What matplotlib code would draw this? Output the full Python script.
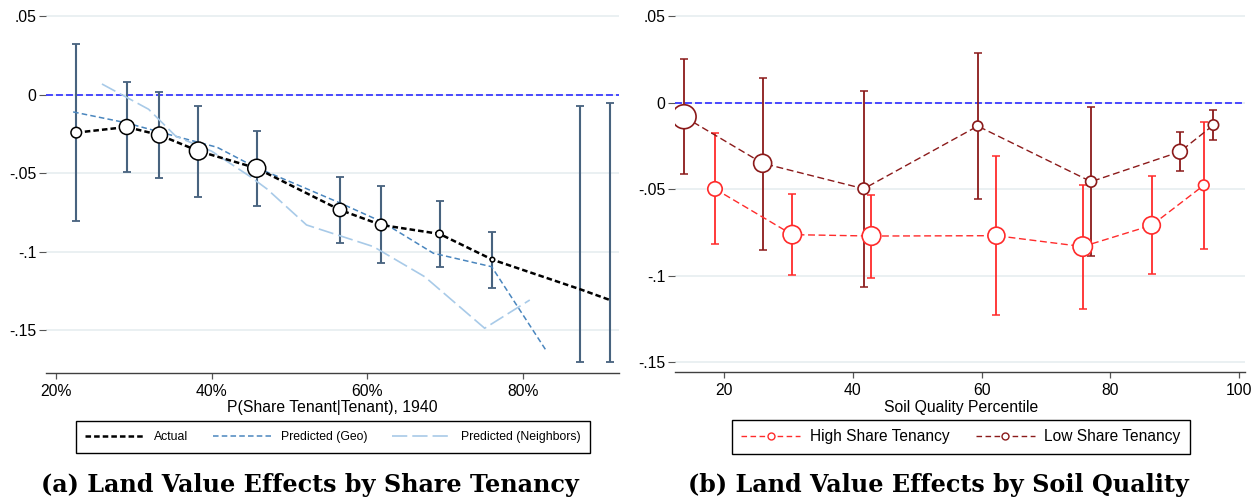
import matplotlib
matplotlib.use("Agg")
import matplotlib.pyplot as plt
from matplotlib.lines import Line2D

plt.rcParams['font.family'] = ['Liberation Sans', 'DejaVu Sans']
plt.rcParams['lines.scale_dashes'] = False

# ---------------- Panel (a): effects by share tenancy ----------------
share_x = [22.6, 29.1, 33.3, 38.3, 45.8, 56.5, 61.8, 69.3, 76.1, 87.4, 91.2]
share_coef = [-0.0242, -0.0206, -0.0257, -0.0359, -0.0469, -0.0734,
              -0.0830, -0.0887, -0.1051, -0.1240, -0.1308]
share_hi = [0.0321, 0.0081, 0.0019, -0.0070, -0.0231, -0.0526,
            -0.0584, -0.0679, -0.0873, -0.0070, -0.0051]
share_lo = [-0.0806, -0.0492, -0.0533, -0.0652, -0.0707, -0.0945,
            -0.1072, -0.1097, -0.1233, -0.1705, -0.1705]
# marker diameter (pixels), proportional to bin weight
share_marker_px = [10.6, 15.0, 16.0, 18.0, 18.0, 13.4, 11.6, 7.4, 4.6, 0.0, 0.0]

geo_x = [22.2, 28.9, 35.5, 40.7, 45.5, 51.4, 56.5, 61.9, 68.5, 76.0, 82.9]
geo_y = [-0.0110, -0.0178, -0.0267, -0.0335, -0.0459, -0.0582,
         -0.0690, -0.0810, -0.1010, -0.1096, -0.1622]

nb_x = [25.9, 31.9, 35.4, 40.0, 44.9, 47.1, 52.2, 60.8, 67.4, 75.1, 80.9]
nb_y = [0.0068, -0.0093, -0.0265, -0.0360, -0.0520, -0.0600,
        -0.0830, -0.0968, -0.1160, -0.1488, -0.1308]

share_xticks = [20, 40, 60, 80]
share_xticklabels = ['20%', '40%', '60%', '80%']

# ---------------- Panel (b): effects by soil quality ----------------
high_x = [18.6, 30.6, 42.9, 62.3, 75.7, 86.4, 94.5]
high_coef = [-0.0498, -0.0762, -0.0770, -0.0768, -0.0831, -0.0708, -0.0477]
high_hi = [-0.0177, -0.0527, -0.0531, -0.0306, -0.0475, -0.0423, -0.0113]
high_lo = [-0.0816, -0.0997, -0.1010, -0.1226, -0.1191, -0.0991, -0.0843]
high_marker_px = [14.4, 18.4, 18.6, 17.0, 19.4, 17.4, 10.6]

low_x = [13.8, 26.0, 41.7, 59.4, 77.0, 90.8, 96.0]
low_coef = [-0.0081, -0.0350, -0.0497, -0.0135, -0.0456, -0.0283, -0.0129]
low_hi = [0.0250, 0.0144, 0.0068, 0.0285, -0.0025, -0.0171, -0.0044]
low_lo = [-0.0412, -0.0850, -0.1062, -0.0554, -0.0885, -0.0394, -0.0214]
low_marker_px = [24.0, 18.0, 11.5, 10.0, 11.0, 14.7, 10.4]

soil_xticks = [20, 40, 60, 80, 100]
soil_xticklabels = ['20', '40', '60', '80', '100']

y_ticks = [0.05, 0.0, -0.05, -0.10, -0.15]
y_ticklabels = ['.05', '0', '-.05', '-.1', '-.15']

# ---------------- styling ----------------
W, H = 1252, 500
PX = 72.0 / 100.0          # points per pixel at 100 dpi
GRID = '#e6eef0'
ZERO = '#3b3bff'
BAR = '#48637f'
CAP = '#22313f'
HIGH = '#ff2b2b'
LOW = '#8b1a1a'
TICK_FS = 11.3
CAPTION = dict(ha='center', va='center', fontsize=17.2, fontweight='bold',
               family='DejaVu Serif')

fig = plt.figure(figsize=(W / 100, H / 100), dpi=100)
fig.patch.set_facecolor('white')


def frac(x0, y0, x1, y1):
    return [x0 / W, 1 - y1 / H, (x1 - x0) / W, (y1 - y0) / H]


def style_axes(ax, xticks, xticklabels):
    for side in ('left', 'right', 'top'):
        ax.spines[side].set_visible(False)
    ax.spines['bottom'].set_color('#404040')
    ax.spines['bottom'].set_linewidth(1.0)
    ax.set_yticks(y_ticks)
    ax.set_yticklabels(y_ticklabels)
    ax.set_xticks(xticks)
    ax.set_xticklabels(xticklabels)
    ax.tick_params(axis='y', length=5, width=0.8, color='#555555', pad=2,
                   labelsize=TICK_FS)
    ax.tick_params(axis='x', length=4, width=0.9, color='#555555', pad=4,
                   labelsize=TICK_FS)
    ax.yaxis.grid(True, color=GRID, linewidth=1.2)
    ax.set_axisbelow(True)
    ax.axhline(0, color=ZERO, linewidth=1.3, dashes=(5.0, 2.2), zorder=1.5)


# ---------------- Panel (a) ----------------
axa = fig.add_axes(frac(46, 8, 619, 373))
axa.set_xlim(18.71, 92.37)
axa.set_ylim(-0.1773, 0.0552)
style_axes(axa, share_xticks, share_xticklabels)

err_lo = [c - l for c, l in zip(share_coef, share_lo)]
err_hi = [h - c for c, h in zip(share_coef, share_hi)]
eb = axa.errorbar(share_x, share_coef, yerr=[err_lo, err_hi], fmt='none',
                  ecolor=BAR, elinewidth=1.5 * PX * 1.4, capsize=4 * PX,
                  capthick=1.3 * PX * 1.4, zorder=2)
for cap in eb[1]:
    cap.set_color(CAP)

axa.plot(geo_x, geo_y, color='#4a86be', linewidth=1.1, dashes=(4.0, 2.3), zorder=3)
axa.plot(nb_x, nb_y, color='#a8cae8', linewidth=1.2, dashes=(11.0, 3.6), zorder=3)
axa.plot(share_x, share_coef, color='black', linewidth=1.8, dashes=(4.0, 2.2), zorder=4)
axa.scatter(share_x, share_coef, s=[(d * PX) ** 2 for d in share_marker_px],
            facecolor='white', edgecolor='black', linewidths=1.1, zorder=5)

fig.text(332.5 / W, 1 - 412 / H, 'P(Share Tenant|Tenant), 1940',
         ha='center', va='baseline', fontsize=TICK_FS)

handles_a = [
    Line2D([], [], color='black', linewidth=1.8, dashes=(4.0, 2.2)),
    Line2D([], [], color='#4a86be', linewidth=1.1, dashes=(4.0, 2.3)),
    Line2D([], [], color='#a8cae8', linewidth=1.2, dashes=(11.0, 3.6)),
]
leg_a = fig.legend(handles_a, ['Actual', 'Predicted (Geo)', 'Predicted (Neighbors)'],
                   loc='center', bbox_to_anchor=(333 / W, 1 - 437 / H),
                   ncol=3, fontsize=8.8, handlelength=4.8, handletextpad=0.83,
                   columnspacing=2.0, borderpad=0.78, frameon=True,
                   fancybox=False, edgecolor='black', framealpha=1)
leg_a.get_frame().set_linewidth(1.0)

fig.text(310 / W, 1 - 485 / H, '(a) Land Value Effects by Share Tenancy', **CAPTION)

# ---------------- Panel (b) ----------------
axb = fig.add_axes(frac(675, 8, 1245, 372.3))
axb.set_xlim(12.39, 100.9)
axb.set_ylim(-0.1557, 0.0547)
style_axes(axb, soil_xticks, soil_xticklabels)

for xs, cs, his, los, dms, col in [
        (high_x, high_coef, high_hi, high_lo, high_marker_px, HIGH),
        (low_x, low_coef, low_hi, low_lo, low_marker_px, LOW)]:
    lo = [c - l for c, l in zip(cs, los)]
    hi = [h - c for c, h in zip(cs, his)]
    axb.errorbar(xs, cs, yerr=[lo, hi], fmt='none', ecolor=col,
                 elinewidth=1.3, capsize=4 * PX, capthick=1.1, zorder=2)
    axb.plot(xs, cs, color=col, linewidth=1.0, dashes=(5.0, 2.6), zorder=3)
    axb.scatter(xs, cs, s=[(d * PX) ** 2 for d in dms], facecolor='white',
                edgecolor=col, linewidths=1.2, zorder=5)

fig.text(961 / W, 1 - 412 / H, 'Soil Quality Percentile',
         ha='center', va='baseline', fontsize=TICK_FS)

handles_b = [
    Line2D([], [], color=HIGH, linewidth=1.0, dashes=(4.0, 2.5), marker='o',
           markersize=5, markerfacecolor='white', markeredgecolor=HIGH,
           markeredgewidth=1.0),
    Line2D([], [], color=LOW, linewidth=1.0, dashes=(4.0, 2.5), marker='o',
           markersize=5, markerfacecolor='white', markeredgecolor=LOW,
           markeredgewidth=1.0),
]
leg_b = fig.legend(handles_b, ['High Share Tenancy', 'Low Share Tenancy'],
                   loc='center', bbox_to_anchor=(961 / W, 1 - 437 / H),
                   ncol=2, fontsize=11.2, handlelength=3.8, handletextpad=0.62,
                   columnspacing=1.67, borderpad=0.6, frameon=True,
                   fancybox=False, edgecolor='black', framealpha=1)
leg_b.get_frame().set_linewidth(1.0)

fig.text(938 / W, 1 - 485 / H, '(b) Land Value Effects by Soil Quality', **CAPTION)

fig.savefig('out.png', dpi=100, facecolor='white')
